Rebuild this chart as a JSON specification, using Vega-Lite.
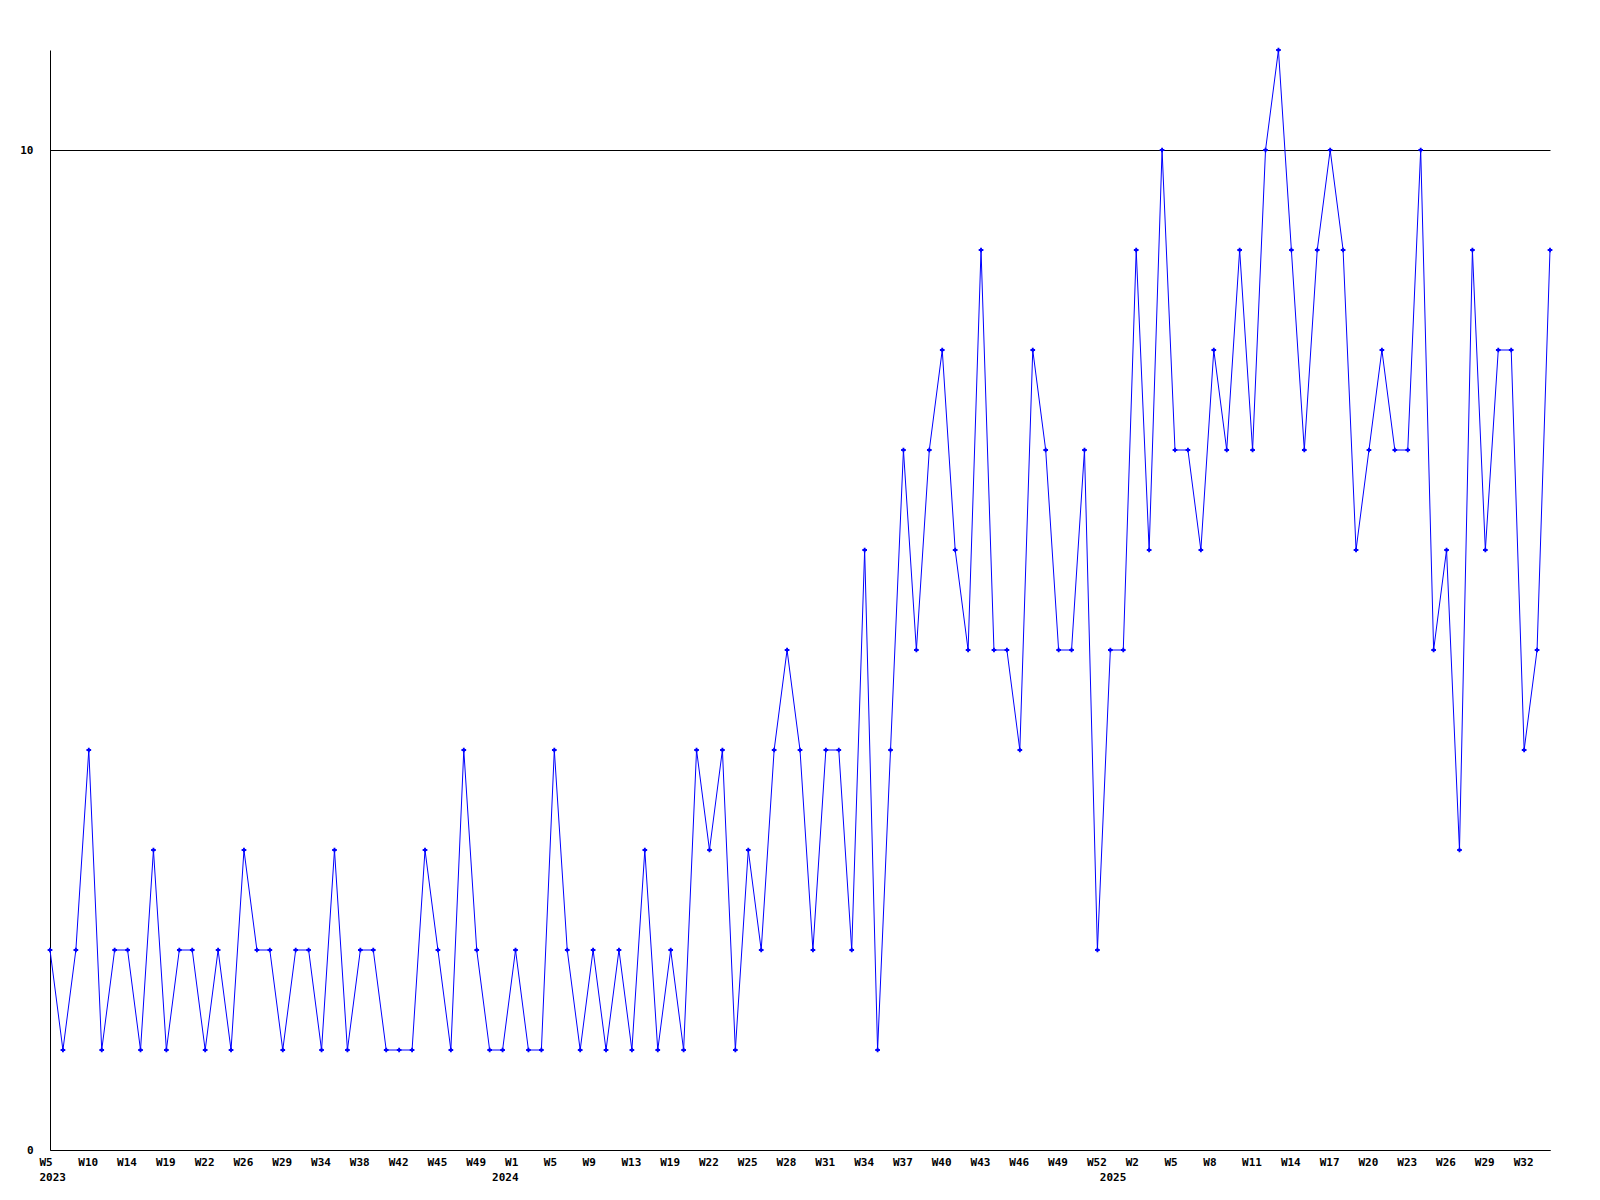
{
  "$schema": "https://vega.github.io/schema/vega-lite/v6.json",
  "autosize": "none",
  "width": 1500,
  "height": 1100,
  "padding": {"left": 50, "top": 50, "right": 50, "bottom": 50},
  "background": "white",
  "config": {"view": {"stroke": null}},
  "data": {"values": [
    {"week": "2023-W05", "v": 2}, {"week": "2023-W07", "v": 1}, {"week": "2023-W08", "v": 2},
    {"week": "2023-W10", "v": 4}, {"week": "2023-W11", "v": 1}, {"week": "2023-W12", "v": 2},
    {"week": "2023-W14", "v": 2}, {"week": "2023-W15", "v": 1}, {"week": "2023-W17", "v": 3},
    {"week": "2023-W19", "v": 1}, {"week": "2023-W20", "v": 2}, {"week": "2023-W21", "v": 2},
    {"week": "2023-W22", "v": 1}, {"week": "2023-W23", "v": 2}, {"week": "2023-W24", "v": 1},
    {"week": "2023-W26", "v": 3}, {"week": "2023-W27", "v": 2}, {"week": "2023-W28", "v": 2},
    {"week": "2023-W29", "v": 1}, {"week": "2023-W31", "v": 2}, {"week": "2023-W32", "v": 2},
    {"week": "2023-W34", "v": 1}, {"week": "2023-W35", "v": 3}, {"week": "2023-W36", "v": 1},
    {"week": "2023-W38", "v": 2}, {"week": "2023-W39", "v": 2}, {"week": "2023-W40", "v": 1},
    {"week": "2023-W42", "v": 1}, {"week": "2023-W43", "v": 1}, {"week": "2023-W44", "v": 3},
    {"week": "2023-W45", "v": 2}, {"week": "2023-W46", "v": 1}, {"week": "2023-W47", "v": 4},
    {"week": "2023-W49", "v": 2}, {"week": "2023-W50", "v": 1}, {"week": "2023-W51", "v": 1},
    {"week": "2024-W01", "v": 2}, {"week": "2024-W02", "v": 1}, {"week": "2024-W03", "v": 1},
    {"week": "2024-W05", "v": 4}, {"week": "2024-W06", "v": 2}, {"week": "2024-W07", "v": 1},
    {"week": "2024-W09", "v": 2}, {"week": "2024-W10", "v": 1}, {"week": "2024-W11", "v": 2},
    {"week": "2024-W13", "v": 1}, {"week": "2024-W15", "v": 3}, {"week": "2024-W17", "v": 1},
    {"week": "2024-W19", "v": 2}, {"week": "2024-W20", "v": 1}, {"week": "2024-W21", "v": 4},
    {"week": "2024-W22", "v": 3}, {"week": "2024-W23", "v": 4}, {"week": "2024-W24", "v": 1},
    {"week": "2024-W25", "v": 3}, {"week": "2024-W26", "v": 2}, {"week": "2024-W27", "v": 4},
    {"week": "2024-W28", "v": 5}, {"week": "2024-W29", "v": 4}, {"week": "2024-W30", "v": 2},
    {"week": "2024-W31", "v": 4}, {"week": "2024-W32", "v": 4}, {"week": "2024-W33", "v": 2},
    {"week": "2024-W34", "v": 6}, {"week": "2024-W35", "v": 1}, {"week": "2024-W36", "v": 4},
    {"week": "2024-W37", "v": 7}, {"week": "2024-W38", "v": 5}, {"week": "2024-W39", "v": 7},
    {"week": "2024-W40", "v": 8}, {"week": "2024-W41", "v": 6}, {"week": "2024-W42", "v": 5},
    {"week": "2024-W43", "v": 9}, {"week": "2024-W44", "v": 5}, {"week": "2024-W45", "v": 5},
    {"week": "2024-W46", "v": 4}, {"week": "2024-W47", "v": 8}, {"week": "2024-W48", "v": 7},
    {"week": "2024-W49", "v": 5}, {"week": "2024-W50", "v": 5}, {"week": "2024-W51", "v": 7},
    {"week": "2024-W52", "v": 2}, {"week": "2024-W53", "v": 5}, {"week": "2025-W01", "v": 5},
    {"week": "2025-W02", "v": 9}, {"week": "2025-W03", "v": 6}, {"week": "2025-W04", "v": 10},
    {"week": "2025-W05", "v": 7}, {"week": "2025-W06", "v": 7}, {"week": "2025-W07", "v": 6},
    {"week": "2025-W08", "v": 8}, {"week": "2025-W09", "v": 7}, {"week": "2025-W10", "v": 9},
    {"week": "2025-W11", "v": 7}, {"week": "2025-W12", "v": 10}, {"week": "2025-W13", "v": 11},
    {"week": "2025-W14", "v": 9}, {"week": "2025-W15", "v": 7}, {"week": "2025-W16", "v": 9},
    {"week": "2025-W17", "v": 10}, {"week": "2025-W18", "v": 9}, {"week": "2025-W19", "v": 6},
    {"week": "2025-W20", "v": 7}, {"week": "2025-W21", "v": 8}, {"week": "2025-W22", "v": 7},
    {"week": "2025-W23", "v": 7}, {"week": "2025-W24", "v": 10}, {"week": "2025-W25", "v": 5},
    {"week": "2025-W26", "v": 6}, {"week": "2025-W27", "v": 3}, {"week": "2025-W28", "v": 9},
    {"week": "2025-W29", "v": 6}, {"week": "2025-W30", "v": 8}, {"week": "2025-W31", "v": 8},
    {"week": "2025-W32", "v": 4}, {"week": "2025-W33", "v": 5}, {"week": "2025-W34", "v": 9}
  ]},
  "encoding": {
    "x": {
      "field": "week", "type": "ordinal",
      "scale": {"type": "point", "padding": 0},
      "axis": {
        "title": null,
        "values": ["2023-W05","2023-W10","2023-W14","2023-W19","2023-W22","2023-W26","2023-W29","2023-W34","2023-W38","2023-W42","2023-W45","2023-W49","2023-W51","2024-W01","2024-W05","2024-W09","2024-W13","2024-W19","2024-W22","2024-W25","2024-W28","2024-W31","2024-W34","2024-W37","2024-W40","2024-W43","2024-W46","2024-W49","2024-W52","2024-W53","2025-W02","2025-W05","2025-W08","2025-W11","2025-W14","2025-W17","2025-W20","2025-W23","2025-W26","2025-W29","2025-W32"],
        "labelExpr": "datum.value == '2023-W05' ? ['W5', '2023'] : datum.value == '2023-W51' ? ['', '2024'] : datum.value == '2024-W53' ? ['', '2025'] : 'W' + toNumber(substring(datum.value, 6))",
        "labelAngle": 0,
        "labelAlign": "left",
        "labelOffset": -11,
        "labelBaseline": "top",
        "labelPadding": 6,
        "labelLineHeight": 15,
        "labelFont": "DejaVu Sans Mono",
        "labelFontWeight": "bold",
        "labelFontSize": 11,
        "labelColor": "black",
        "labelOverlap": false,
        "labelFlush": false,
        "labelBound": false,
        "ticks": false,
        "tickSize": 0,
        "grid": false,
        "domainColor": "black",
        "domainWidth": 1
      }
    },
    "y": {
      "field": "v", "type": "quantitative",
      "scale": {"domain": [0, 11], "nice": false, "zero": true},
      "axis": {
        "title": null,
        "values": [0, 10],
        "grid": true,
        "gridColor": "black",
        "gridOpacity": 1,
        "gridWidth": 1,
        "ticks": false,
        "tickSize": 0,
        "labelPadding": 17,
        "labelFont": "DejaVu Sans Mono",
        "labelFontWeight": "bold",
        "labelFontSize": 11,
        "labelColor": "black",
        "domainColor": "black",
        "domainWidth": 1
      }
    }
  },
  "layer": [
    {"mark": {"type": "line", "color": "#0000ff", "strokeWidth": 1}},
    {"mark": {"type": "point", "shape": "cross", "filled": true, "size": 22, "color": "#0000ff", "opacity": 1}}
  ]
}
